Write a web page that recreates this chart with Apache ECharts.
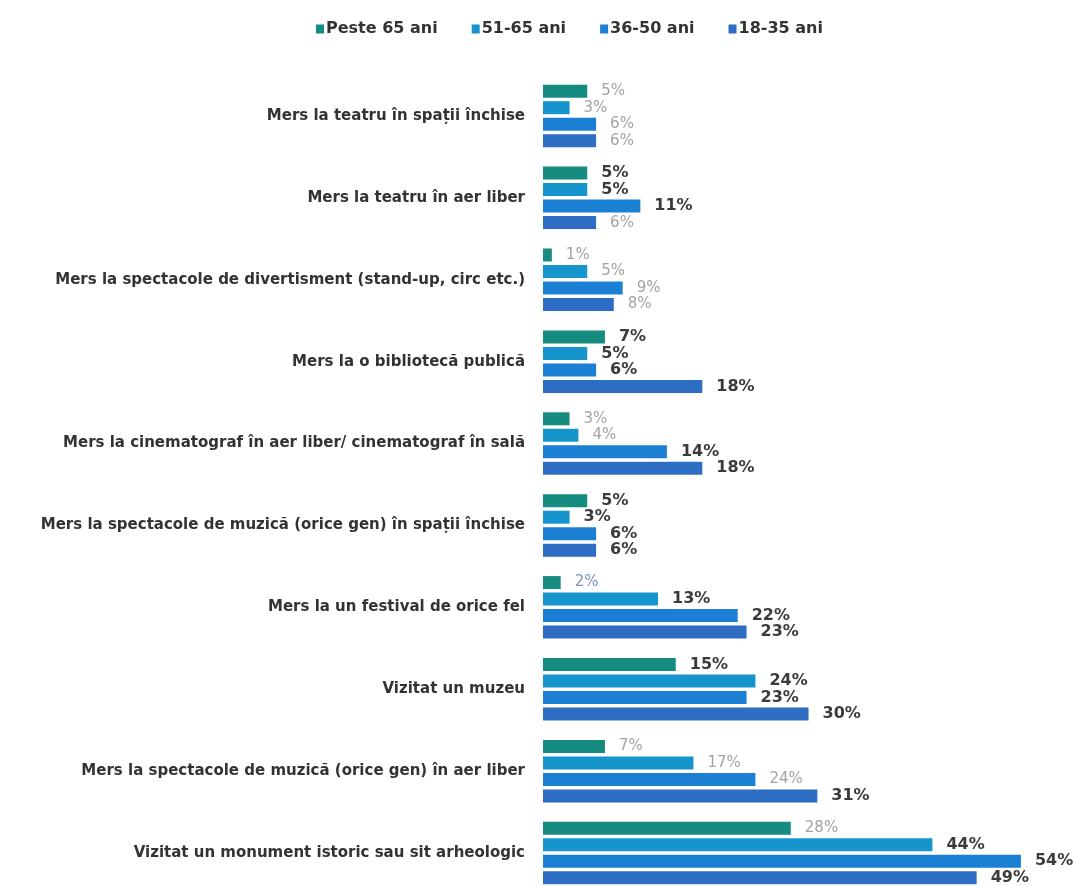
<!DOCTYPE html>
<html>
<head>
<meta charset="utf-8">
<script src="https://cdn.jsdelivr.net/npm/echarts@6/dist/echarts.min.js"></script>
<style>
  html, body { margin: 0; padding: 0; background: #ffffff; overflow: hidden; }
  #chart { width: 1074px; height: 900px; }
</style>
</head>
<body>
<div id="chart"></div>
<script>
// Activities, listed top to bottom
const categories = [
  'Mers la teatru în spații închise',
  'Mers la teatru în aer liber',
  'Mers la spectacole de divertisment (stand-up, circ etc.)',
  'Mers la o bibliotecă publică',
  'Mers la cinematograf în aer liber/ cinematograf în sală',
  'Mers la spectacole de muzică (orice gen) în spații închise',
  'Mers la un festival de orice fel',
  'Vizitat un muzeu',
  'Mers la spectacole de muzică (orice gen) în aer liber',
  'Vizitat un monument istoric sau sit arheologic'
];

const seriesNames = ['Peste 65 ani', '51-65 ani', '36-50 ani', '18-35 ani'];

// Share of respondents (%) per age group
const peste65 = [5, 5, 1, 7, 3, 5, 2, 15, 7, 28];
const ani51_65 = [3, 5, 5, 5, 4, 3, 13, 24, 17, 44];
const ani36_50 = [6, 11, 9, 6, 14, 6, 22, 23, 24, 54];
const ani18_35 = [6, 6, 8, 18, 18, 6, 23, 30, 31, 49];

// Labels printed in the light, thin style (per series, by category index)
const lightLabels = [
  [0, 2, 4, 6, 8, 9],
  [0, 2, 4, 8],
  [0, 2, 8],
  [0, 1, 2]
];

const colors = ['#168c80', '#1595cb', '#1b80d3', '#2d6dc3'];
const values = [peste65, ani51_65, ani36_50, ani18_35];

const FONT = '"DejaVu Sans", Verdana, sans-serif';

const chart = echarts.init(document.getElementById('chart'), null, { renderer: 'canvas' });

const series = seriesNames.map((name, s) => ({
  name: name,
  type: 'bar',
  barWidth: 13,
  barGap: '27%',
  itemStyle: { color: colors[s] },
  data: values[s].map((v, i) => {
    const light = lightLabels[s].indexOf(i) >= 0;
    return {
      value: v,
      label: light
        ? { color: s === 0 && i === 6 ? '#7a93b5' : '#a3a3a3', fontWeight: 'normal', fontSize: 15 }
        : { color: '#3b3b3b', fontWeight: 'bold', fontSize: 16 }
    };
  }),
  label: {
    show: true,
    position: 'right',
    distance: 14,
    fontFamily: FONT,
    formatter: p => p.value + '%'
  }
}));

chart.setOption({
  backgroundColor: '#ffffff',
  animation: false,
  legend: {
    top: 16,
    left: 311,
    itemWidth: 8,
    itemHeight: 9,
    itemGap: 34,
    icon: 'rect',
    data: seriesNames,
    textStyle: { fontFamily: FONT, fontSize: 16, fontWeight: 'bold', color: '#333333', padding: [0, 0, 0, -3] }
  },
  grid: { left: 543, top: 75, height: 819, right: 0 },
  xAxis: {
    type: 'value',
    min: 0,
    max: 60,
    show: false
  },
  yAxis: {
    type: 'category',
    inverse: true,
    data: categories,
    axisLine: { show: false },
    axisTick: { show: false },
    axisLabel: {
      margin: 18,
      fontFamily: FONT,
      fontSize: 15,
      fontWeight: 'bold',
      color: '#333333'
    }
  },
  series: series
});
</script>
</body>
</html>
